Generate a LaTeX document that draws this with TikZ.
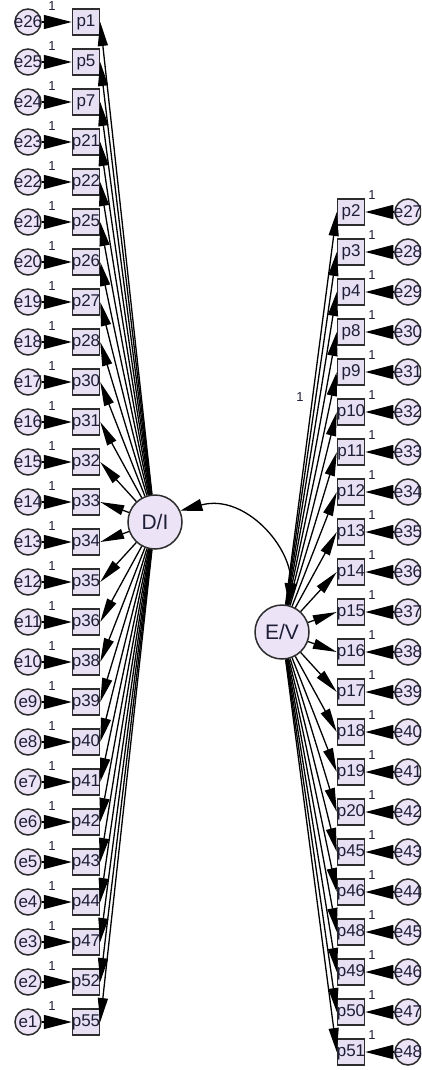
\documentclass[tikz,border=0pt]{standalone}
\usepackage{fontspec}
\setmainfont{Liberation Sans}
\usetikzlibrary{arrows.meta}
\definecolor{boxfill}{RGB}{230,224,242}
\definecolor{circfill}{RGB}{236,228,246}
\definecolor{txt}{RGB}{30,30,55}
\definecolor{bordc}{RGB}{45,45,45}
\begin{document}
\begin{tikzpicture}[x=1pt,y=-1pt,
  obs/.style={draw=bordc, line width=1.5pt, fill=boxfill, minimum width=27pt, minimum height=26pt, inner sep=0pt, font=\fontsize{17}{17}\selectfont, text=txt},
  err/.style={circle, draw=bordc, line width=1.5pt, fill=circfill, minimum size=26pt, inner sep=0pt, font=\fontsize{17}{17}\selectfont, text=txt},
  lat/.style={circle, draw=bordc, line width=1.5pt, fill=circfill, minimum size=54pt, inner sep=0pt, font=\fontsize{21}{21}\selectfont, text=txt},
  loadarrow/.style={-{Triangle[length=24pt,width=10pt]}, line width=1.3pt, black},
  errarrow/.style={-{Triangle[length=28pt,width=14pt]}, line width=1.3pt, black},
  covarrow/.style={{Triangle[length=22pt,width=12pt]}-{Triangle[length=22pt,width=12pt]}, line width=1.3pt, black},
  one/.style={font=\fontsize{13}{13}\selectfont, text=txt, inner sep=0pt}
]
\clip (0,0) rectangle (421,1070);
\fill[white] (0,0) rectangle (421,1070);

% left column
\foreach \p/\e [count=\i from 0] in {p1/e26,p5/e25,p7/e24,p21/e23,p22/e22,p25/e21,p26/e20,p27/e19,p28/e18,p30/e17,p31/e16,p32/e15,p33/e14,p34/e13,p35/e12,p36/e11,p38/e10,p39/e9,p40/e8,p41/e7,p42/e6,p43/e5,p44/e4,p47/e3,p52/e2,p55/e1} {
  \pgfmathsetmacro\yy{22+40*\i}
  \node[obs] (\p) at (86,\yy) {\makebox[0pt]{\p}};
  \node[err] (\e) at (28,\yy) {\makebox[0pt]{\e}};
  \node[one] at (52,\yy-16) {1};
}
% right column
\foreach \p/\e [count=\i from 0] in {p2/e27,p3/e28,p4/e29,p8/e30,p9/e31,p10/e32,p11/e33,p12/e34,p13/e35,p14/e36,p15/e37,p16/e38,p17/e39,p18/e40,p19/e41,p20/e42,p45/e43,p46/e44,p48/e45,p49/e46,p50/e47,p51/e48} {
  \pgfmathsetmacro\yy{212+40*\i}
  \node[obs] (\p) at (351,\yy) {\makebox[0pt]{\p}};
  \node[err] (\e) at (408,\yy) {\makebox[0pt]{\e}};
  \node[one] at (372,\yy-17) {1};
}

\node[lat] (DI) at (155,522) {D/I};
\node[lat] (EV) at (282,632) {E/V};
\node[one] (w1) at (300,397) {1};

\foreach \p/\e in {p1/e26,p5/e25,p7/e24,p21/e23,p22/e22,p25/e21,p26/e20,p27/e19,p28/e18,p30/e17,p31/e16,p32/e15,p33/e14,p34/e13,p35/e12,p36/e11,p38/e10,p39/e9,p40/e8,p41/e7,p42/e6,p43/e5,p44/e4,p47/e3,p52/e2,p55/e1} {
  \draw[errarrow] (\e) -- (\p);
  \draw[loadarrow] (DI) -- (\p.east);
}
\foreach \p/\e in {p2/e27,p3/e28,p4/e29,p8/e30,p9/e31,p10/e32,p11/e33,p12/e34,p13/e35,p14/e36,p15/e37,p16/e38,p17/e39,p18/e40,p19/e41,p20/e42,p45/e43,p46/e44,p48/e45,p49/e46,p50/e47,p51/e48} {
  \draw[errarrow] (\e) -- (\p);
  \draw[loadarrow] (EV) -- (\p.west);
}

\draw[covarrow] (DI.24) .. controls (245,493) and (293,548) .. (EV.75);
\end{tikzpicture}
\end{document}
